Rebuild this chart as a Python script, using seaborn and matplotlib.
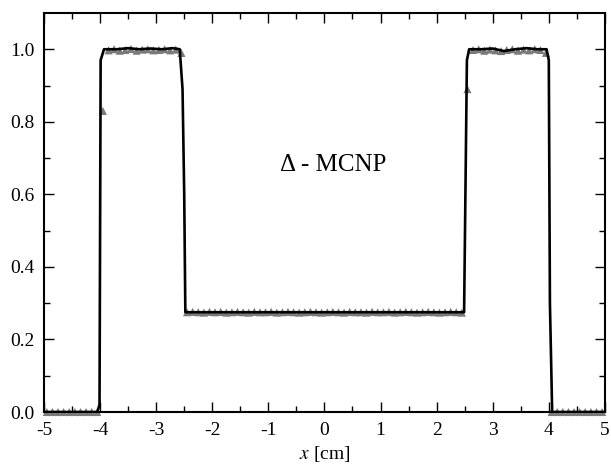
import numpy as np
import pandas as pd
import matplotlib
matplotlib.use("Agg")
import matplotlib.pyplot as plt
import seaborn as sns

# Reference (black) profile
x_ref = [-5.0, -4.05, -4.01, -3.99, -3.93, -3.7, -3.5, -3.3, -3.1, -2.9, -2.7, -2.58,
         -2.53, -2.50, -2.48, -2.0, -1.0, 0.0, 1.0, 2.0, 2.49, 2.54, 2.58, 2.8, 3.0,
         3.2, 3.4, 3.6, 3.8, 3.96, 4.0, 4.02, 4.06, 5.0]
y_ref = [0.0, 0.0, 0.02, 0.97, 1.0, 1.0, 1.003, 1.0, 1.002, 1.0, 1.003, 1.0,
         0.89, 0.60, 0.275, 0.275, 0.275, 0.275, 0.275, 0.275, 0.275, 0.97, 1.0, 1.0, 1.002,
         0.995, 1.0, 1.003, 1.0, 1.0, 0.97, 0.30, 0.0, 0.0]

# MCNP cell-averaged values (grey triangles)
x_mc = [-4.95, -4.85, -4.75, -4.65, -4.55, -4.45, -4.35, -4.25, -4.15, -4.05,
        -3.95, -3.85, -3.75, -3.65, -3.55, -3.45, -3.35, -3.25, -3.15, -3.05,
        -2.95, -2.85, -2.75, -2.65, -2.55, -2.45, -2.35, -2.25, -2.15, -2.05,
        -1.95, -1.85, -1.75, -1.65, -1.55, -1.45, -1.35, -1.25, -1.15, -1.05,
        -0.95, -0.85, -0.75, -0.65, -0.55, -0.45, -0.35, -0.25, -0.15, -0.05,
        0.05, 0.15, 0.25, 0.35, 0.45, 0.55, 0.65, 0.75, 0.85, 0.95,
        1.05, 1.15, 1.25, 1.35, 1.45, 1.55, 1.65, 1.75, 1.85, 1.95,
        2.05, 2.15, 2.25, 2.35, 2.45, 2.55, 2.65, 2.75, 2.85, 2.95,
        3.05, 3.15, 3.25, 3.35, 3.45, 3.55, 3.65, 3.75, 3.85, 3.95,
        4.05, 4.15, 4.25, 4.35, 4.45, 4.55, 4.65, 4.75, 4.85, 4.95]
y_mc = [0.0, 0.0, 0.0, 0.0, 0.0, 0.0, 0.0, 0.0, 0.0, 0.0,
        0.83, 0.997, 1.0, 0.996, 0.998, 1.001, 0.996, 0.999, 1.0, 0.997,
        0.998, 1.0, 0.997, 0.999, 0.99, 0.275, 0.276, 0.275, 0.274, 0.276,
        0.275, 0.276, 0.274, 0.275, 0.276, 0.275, 0.274, 0.276, 0.275, 0.275,
        0.276, 0.274, 0.275, 0.276, 0.275, 0.274, 0.275, 0.276, 0.275, 0.274,
        0.275, 0.276, 0.275, 0.274, 0.276, 0.275, 0.275, 0.274, 0.276, 0.275,
        0.275, 0.276, 0.274, 0.275, 0.276, 0.275, 0.274, 0.275, 0.276, 0.275,
        0.274, 0.275, 0.276, 0.275, 0.274, 0.89, 0.998, 1.0, 0.996, 0.999,
        0.997, 0.995, 0.998, 1.0, 0.996, 0.999, 0.997, 1.0, 0.998, 0.99,
        0.0, 0.0, 0.0, 0.0, 0.0, 0.0, 0.0, 0.0, 0.0, 0.0]

x_ticks = [-5, -4, -3, -2, -1, 0, 1, 2, 3, 4, 5]
x_ticklabels = ["-5", "-4", "-3", "-2", "-1", "0", "1", "2", "3", "4", "5"]
y_ticks = [0.0, 0.2, 0.4, 0.6, 0.8, 1.0]
y_ticklabels = ["0.0", "0.2", "0.4", "0.6", "0.8", "1.0"]

sns.set_style("ticks")
plt.rcParams["font.family"] = ["Liberation Serif", "DejaVu Serif"]
plt.rcParams["mathtext.fontset"] = "stix"
plt.rcParams["text.color"] = "black"
plt.rcParams["axes.labelcolor"] = "black"
plt.rcParams["xtick.color"] = "black"
plt.rcParams["ytick.color"] = "black"

fig = plt.figure(figsize=(6.11, 4.70), dpi=100)
ax = fig.add_axes([0.072, 0.1234, 0.918, 0.849])

df_mc = pd.DataFrame({"x": x_mc, "y": y_mc})
df_ref = pd.DataFrame({"x": x_ref, "y": y_ref})

# grey triangles under the black curve
sns.scatterplot(data=df_mc, x="x", y="y", ax=ax, marker="^", s=34,
                color="#7a7a7a", edgecolor="none", linewidth=0, zorder=2,
                clip_on=False)
sns.lineplot(data=df_ref, x="x", y="y", ax=ax, color="black", lw=1.9,
             sort=False, estimator=None, zorder=3)

ax.set_xlim(-5, 5)
ax.set_ylim(0, 1.1)
ax.set_xticks(x_ticks)
ax.set_xticklabels(x_ticklabels)
ax.set_yticks(y_ticks)
ax.set_yticklabels(y_ticklabels)
ax.set_xticks(np.arange(-4.5, 5, 1.0), minor=True)
ax.set_yticks(np.arange(0.1, 1.1, 0.2), minor=True)
ax.tick_params(which="both", direction="in", top=True, right=True,
               width=1.0, labelsize=14, colors="black", labelcolor="black")
ax.tick_params(which="major", length=7, pad=7)
ax.tick_params(which="minor", length=4)
for s in ax.spines.values():
    s.set_linewidth(1.5)
    s.set_color("black")
    s.set_zorder(5)

ax.set_xlabel(r"$x$ [cm]", fontsize=14, labelpad=4, color="black")
ax.set_ylabel("")
ax.text(0.15, 0.68, "Δ - MCNP", fontsize=18, ha="center", va="center",
        color="black")

fig.savefig("out.png", dpi=100)
